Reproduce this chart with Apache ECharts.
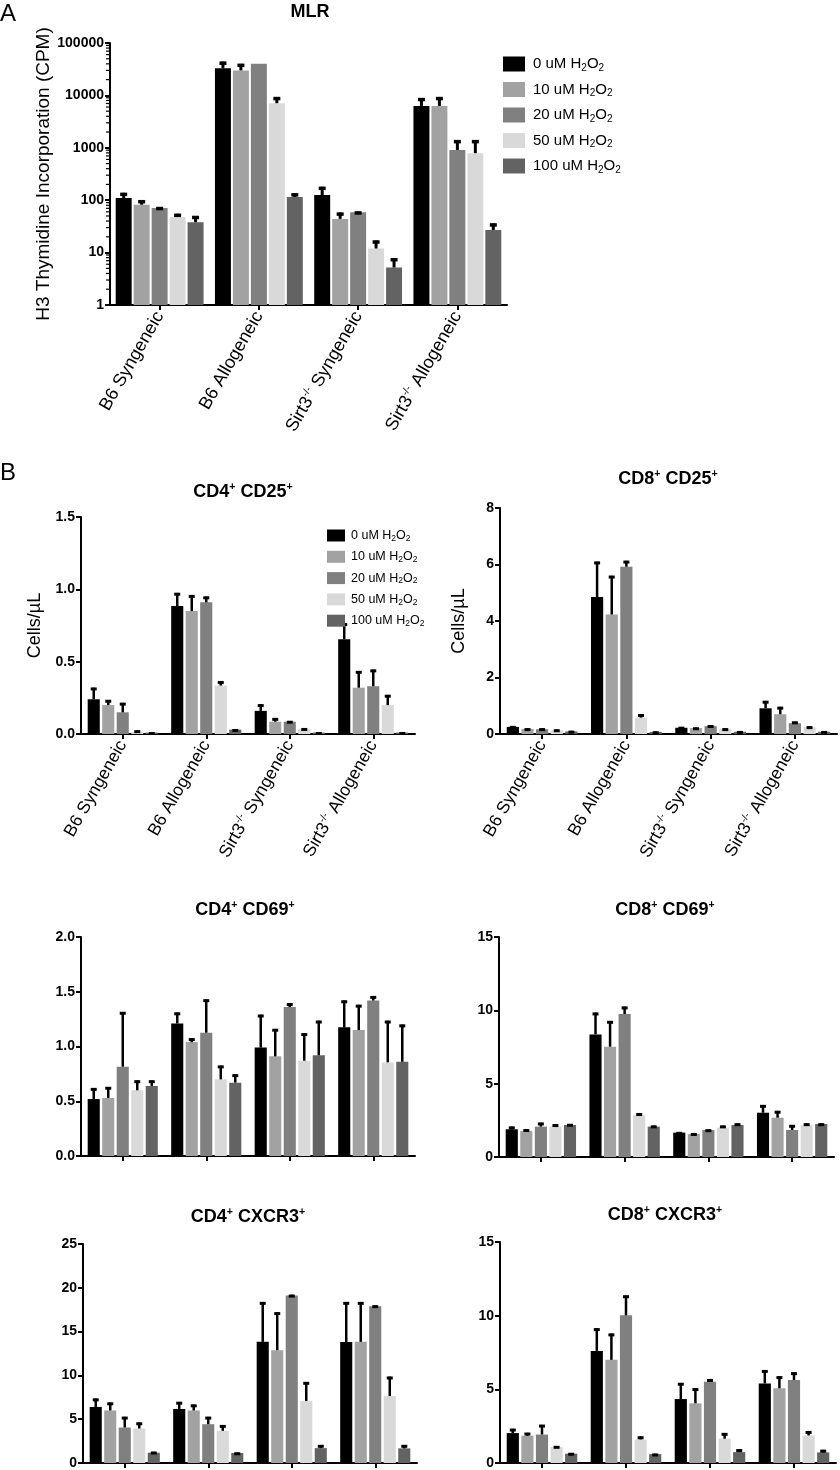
<!DOCTYPE html>
<html><head><meta charset="utf-8">
<script src="https://cdn.jsdelivr.net/npm/echarts@6/dist/echarts.min.js"></script>
<style>html,body{margin:0;padding:0;background:#fff}#c{width:840px;height:1470px}</style>
</head><body><div id="c"></div>
<script>
// ---------- data ----------
const categories = ['B6 Syngeneic', 'B6 Allogeneic', 'Sirt3-/- Syngeneic', 'Sirt3-/- Allogeneic'];
const doses = ['0 uM', '10 uM', '20 uM', '50 uM', '100 uM'];

// each row = one dose (0,10,20,50,100 uM), columns = categories
const mlrMean = [[110, 33000, 125, 6300], [82, 30000, 44, 6300], [71, 40000, 59, 910], [48, 7100, 12, 790], [38, 115, 5.2, 27]];
const mlrSD   = [[28, 11000, 55, 2600], [18, 10000, 14, 3000], [3, 0, 2, 490], [7, 2200, 5, 610], [12, 20, 2.6, 9]];

const cd4cd25Mean = [[0.24, 0.885, 0.16, 0.655], [0.20, 0.85, 0.085, 0.32], [0.15, 0.91, 0.085, 0.33], [0.015, 0.335, 0.035, 0.20], [0.01, 0.03, 0.01, 0.01]];
const cd4cd25SD   = [[0.08, 0.09, 0.045, 0.11], [0.035, 0.11, 0.025, 0.115], [0.065, 0.04, 0.005, 0.115], [0.01, 0.03, 0.005, 0.07], [0.002, 0.003, 0.002, 0.002]];

const cd8cd25Mean = [[0.25, 4.85, 0.22, 0.91], [0.18, 4.23, 0.21, 0.70], [0.17, 5.92, 0.28, 0.38], [0.13, 0.58, 0.17, 0.24], [0.09, 0.07, 0.08, 0.08]];
const cd8cd25SD   = [[0.03, 1.25, 0.03, 0.26], [0.02, 1.37, 0.02, 0.26], [0.03, 0.21, 0.03, 0.06], [0.03, 0.12, 0.03, 0.03], [0.02, 0.02, 0.02, 0.02]];

const cd4cd69Mean = [[0.52, 1.21, 0.99, 1.175], [0.53, 1.04, 0.91, 1.15], [0.815, 1.126, 1.36, 1.42], [0.60, 0.70, 0.87, 0.855], [0.64, 0.67, 0.92, 0.86]];
const cd4cd69SD   = [[0.10, 0.10, 0.30, 0.245], [0.10, 0.035, 0.25, 0.23], [0.50, 0.304, 0.035, 0.04], [0.09, 0.125, 0.25, 0.38], [0.05, 0.075, 0.315, 0.34]];

const cd8cd69Mean = [[1.89, 8.36, 1.66, 3.02], [1.77, 7.52, 1.57, 2.68], [2.07, 9.75, 1.84, 1.84], [2.07, 2.86, 2.00, 2.18], [2.18, 2.07, 2.18, 2.25]];
const cd8cd69SD   = [[0.18, 1.48, 0.04, 0.52], [0.12, 1.75, 0.05, 0.46], [0.27, 0.50, 0.04, 0.34], [0.16, 0.12, 0.14, 0.11], [0.07, 0.07, 0.11, 0.04]];

const cd4cxcr3Mean = [[6.4, 6.17, 13.83, 13.8], [6.0, 6.0, 12.88, 13.83], [4.05, 4.43, 19.13, 17.88], [3.94, 3.67, 7.08, 7.65], [1.17, 1.14, 1.70, 1.67]];
const cd4cxcr3SD   = [[0.95, 0.80, 4.54, 4.57], [0.90, 0.67, 4.32, 4.54], [1.22, 0.84, 0.07, 0.11], [0.68, 0.65, 2.16, 2.20], [0.11, 0.06, 0.35, 0.38]];

const cd8cxcr3Mean = [[2.03, 7.61, 4.34, 5.40], [1.85, 7.00, 4.05, 5.07], [1.93, 10.02, 5.51, 5.63], [1.08, 1.60, 1.65, 1.87], [0.63, 0.60, 0.74, 0.72]];
const cd8cxcr3SD   = [[0.29, 1.53, 1.09, 0.90], [0.20, 1.78, 1.02, 0.81], [0.66, 1.35, 0.18, 0.52], [0.07, 0.20, 0.38, 0.29], [0.05, 0.03, 0.19, 0.17]];

const logMinorTicks = [2,3,4,5,6,7,8,9,20,30,40,50,60,70,80,90,200,300,400,500,600,700,800,900,2000,3000,4000,5000,6000,7000,8000,9000,20000,30000,40000,50000,60000,70000,80000,90000];

// ---------- style / layout ----------
const FONT = "'Liberation Sans', Arial, Helvetica, sans-serif";
const colors = ['#000000', '#a2a2a2', '#808080', '#d9d9d9', '#636363'];

const panels = [
  {title: '{t|MLR}', tx: 310, ty: 12, mean: mlrMean, sd: mlrSD, log: true, min: 1, max: 100000,
   grid: {left: 110, top: 43, width: 397, height: 262}, showX: true, xFont: 18,
   yName: 'H3 Thymidine Incorporation (CPM)', nameGap: 52, nameSize: 19,
   barGap: 0.125, catGap: 0.115, lw: 3, cap: 7},
  {title: '{t|CD4}{s|+}{t| CD25}{s|+}', tx: 243, ty: 492, mean: cd4cd25Mean, sd: cd4cd25SD, min: 0, max: 1.5, interval: 0.5, dec: 1,
   grid: {left: 81, top: 517, width: 334, height: 217}, showX: true, xFont: 17.5,
   yName: 'Cells/\u00b5L', nameGap: 37, nameSize: 18, barGap: 0.2, catGap: 0.16, lw: 2.5, cap: 6},
  {title: '{t|CD8}{s|+}{t| CD25}{s|+}', tx: 668, ty: 479, mean: cd8cd25Mean, sd: cd8cd25SD, min: 0, max: 8, interval: 2, dec: 0,
   grid: {left: 500, top: 508, width: 337, height: 226}, showX: true, xFont: 17.5,
   yName: 'Cells/\u00b5L', nameGap: 32, nameSize: 18, barGap: 0.2, catGap: 0.16, lw: 2.5, cap: 6},
  {title: '{t|CD4}{s|+}{t| CD69}{s|+}', tx: 245, ty: 910, mean: cd4cd69Mean, sd: cd4cd69SD, min: 0, max: 2, interval: 0.5, dec: 1,
   grid: {left: 81, top: 937, width: 334, height: 219}, showX: false,
   barGap: 0.2, catGap: 0.16, lw: 2.5, cap: 6},
  {title: '{t|CD8}{s|+}{t| CD69}{s|+}', tx: 665, ty: 910, mean: cd8cd69Mean, sd: cd8cd69SD, min: 0, max: 15, interval: 5, dec: 0,
   grid: {left: 499, top: 937, width: 335, height: 220}, showX: false,
   barGap: 0.2, catGap: 0.16, lw: 2.5, cap: 6},
  {title: '{t|CD4}{s|+}{t| CXCR3}{s|+}', tx: 248, ty: 1217, mean: cd4cxcr3Mean, sd: cd4cxcr3SD, min: 0, max: 25, interval: 5, dec: 0,
   grid: {left: 83, top: 1244, width: 334, height: 220}, showX: false,
   barGap: 0.2, catGap: 0.16, lw: 2.5, cap: 6},
  {title: '{t|CD8}{s|+}{t| CXCR3}{s|+}', tx: 665, ty: 1215, mean: cd8cxcr3Mean, sd: cd8cxcr3SD, min: 0, max: 15, interval: 5, dec: 0,
   grid: {left: 500, top: 1242, width: 336, height: 222}, showX: false,
   barGap: 0.2, catGap: 0.16, lw: 2.5, cap: 6}
];

function catLabel(v) {
  return v.replace('Sirt3-/-', 'Sirt3{sup|-/-}');
}

function makeErrRender(k, p) {
  const n = doses.length;
  const g = p.barGap;
  return function (params, api) {
    const cat = api.value(0), mean = api.value(1), sd = api.value(2);
    if (!(sd > 0)) return null;
    const band = api.size([1, 0])[0];
    const w = (band - band * p.catGap) / (n + (n - 1) * g);
    const total = n * w + (n - 1) * g * w;
    const off = -total / 2 + k * w * (1 + g) + w / 2;
    const p0 = api.coord([cat, mean]);
    const p1 = api.coord([cat, mean + sd]);
    const x = p0[0] + off;
    return {
      type: 'group',
      children: [
        {type: 'line', shape: {x1: x, y1: p0[1], x2: x, y2: p1[1]}, style: {stroke: '#000', lineWidth: p.lw}},
        {type: 'line', shape: {x1: x - p.cap / 2, y1: p1[1] + p.lw / 2, x2: x + p.cap / 2, y2: p1[1] + p.lw / 2}, style: {stroke: '#000', lineWidth: p.lw + 0.5}}
      ]
    };
  };
}

const grids = [], xAxes = [], yAxes = [], series = [], graphics = [];

panels.forEach((p, idx) => {
  grids.push(Object.assign({containLabel: false}, p.grid));
  xAxes.push({
    type: 'category', gridIndex: idx, data: categories, boundaryGap: true,
    axisLine: {lineStyle: {color: '#000', width: 2}},
    axisTick: {show: true, alignWithLabel: true, length: 5, lineStyle: {color: '#000', width: 2}},
    axisLabel: {show: !!p.showX, rotate: 60, interval: 0, margin: 8, color: '#000',
      fontFamily: FONT, fontSize: p.xFont || 16, lineHeight: 20, formatter: catLabel,
      rich: {sup: {fontFamily: FONT, fontSize: 10, lineHeight: 10, verticalAlign: 'top', color: '#000'}}},
    splitLine: {show: false}
  });
  const y = {
    gridIndex: idx, min: p.min, max: p.max,
    axisLine: {show: true, lineStyle: {color: '#000', width: 2}},
    axisTick: {show: true, length: 5, lineStyle: {color: '#000', width: 2}},
    axisLabel: {color: '#000', fontFamily: FONT, fontSize: 14, fontWeight: 'bold', margin: 6},
    splitLine: {show: false}
  };
  if (p.log) {
    y.type = 'log'; y.logBase = 10;
    y.axisLabel.formatter = v => String(Math.round(v));
  } else {
    y.type = 'value'; y.interval = p.interval;
    const d = p.dec;
    y.axisLabel.formatter = v => v.toFixed(d);
  }
  if (p.yName) {
    y.name = p.yName; y.nameLocation = 'middle'; y.nameGap = p.nameGap;
    y.nameTextStyle = {color: '#000', fontFamily: FONT, fontSize: p.nameSize};
  }
  yAxes.push(y);

  doses.forEach((d, k) => {
    series.push({
      type: 'bar', name: d, xAxisIndex: idx, yAxisIndex: idx,
      data: p.mean[k], itemStyle: {color: colors[k]},
      barGap: (p.barGap * 100) + '%', barCategoryGap: (p.catGap * 100) + '%',
      z: 2, silent: true
    });
  });
  doses.forEach((d, k) => {
    series.push({
      type: 'custom', xAxisIndex: idx, yAxisIndex: idx, z: 3, silent: true, clip: false,
      renderItem: makeErrRender(k, p),
      data: p.mean[k].map((m, j) => [j, m, p.sd[k][j]])
    });
  });
  if (p.log) {
    series.push({
      type: 'custom', xAxisIndex: idx, yAxisIndex: idx, z: 4, silent: true, clip: false,
      renderItem: function (params, api) {
        const pt = api.coord([0, api.value(1)]);
        const band = api.size([1, 0])[0];
        const x = pt[0] - band / 2 - 1;
        return {type: 'line', shape: {x1: x - 3, y1: pt[1], x2: x, y2: pt[1]}, style: {stroke: '#000', lineWidth: 1.2}};
      },
      data: logMinorTicks.map(v => [0, v])
    });
  }

  graphics.push({
    type: 'text', x: p.tx, y: p.ty, silent: true,
    style: {
      text: p.title, align: 'center', verticalAlign: 'middle', fill: '#000',
      rich: {
        t: {fontFamily: FONT, fontSize: 18, fontWeight: 'bold', lineHeight: 21, fill: '#000', color: '#000'},
        s: {fontFamily: FONT, fontSize: 10.5, fontWeight: 'bold', lineHeight: 10, verticalAlign: 'top', fill: '#000', color: '#000'}
      }
    }
  });
});

graphics.push({type: 'text', x: 0, y: 2, silent: true, style: {text: 'A', fontFamily: FONT, fontSize: 24, fill: '#000'}});
graphics.push({type: 'text', x: 0, y: 461, silent: true, style: {text: 'B', fontFamily: FONT, fontSize: 24, fill: '#000'}});

function legendFormatter(name) { return name + ' H{sub|2}O{sub|2}'; }

const option = {
  animation: false,
  backgroundColor: '#ffffff',
  textStyle: {fontFamily: FONT},
  grid: grids, xAxis: xAxes, yAxis: yAxes, series: series, graphic: graphics,
  legend: [
    {data: doses, orient: 'vertical', left: 498, top: 50, icon: 'rect', itemWidth: 22, itemHeight: 15, itemGap: 7.5,
     selectedMode: false, formatter: legendFormatter,
     textStyle: {color: '#000', fontFamily: FONT, fontSize: 15, lineHeight: 18, padding: [0, 0, 0, 3],
       rich: {sub: {fontFamily: FONT, fontSize: 10, lineHeight: 8, verticalAlign: 'bottom', color: '#000'}}}},
    {data: doses, orient: 'vertical', left: 322, top: 523, icon: 'rect', itemWidth: 18, itemHeight: 12, itemGap: 6.3,
     selectedMode: false, formatter: legendFormatter,
     textStyle: {color: '#000', fontFamily: FONT, fontSize: 12.5, lineHeight: 15, padding: [0, 0, 0, 1],
       rich: {sub: {fontFamily: FONT, fontSize: 8.5, lineHeight: 7, verticalAlign: 'bottom', color: '#000'}}}}
  ]
};

const chart = echarts.init(document.getElementById('c'), null, {renderer: 'canvas'});
chart.setOption(option);
</script>
</body></html>
